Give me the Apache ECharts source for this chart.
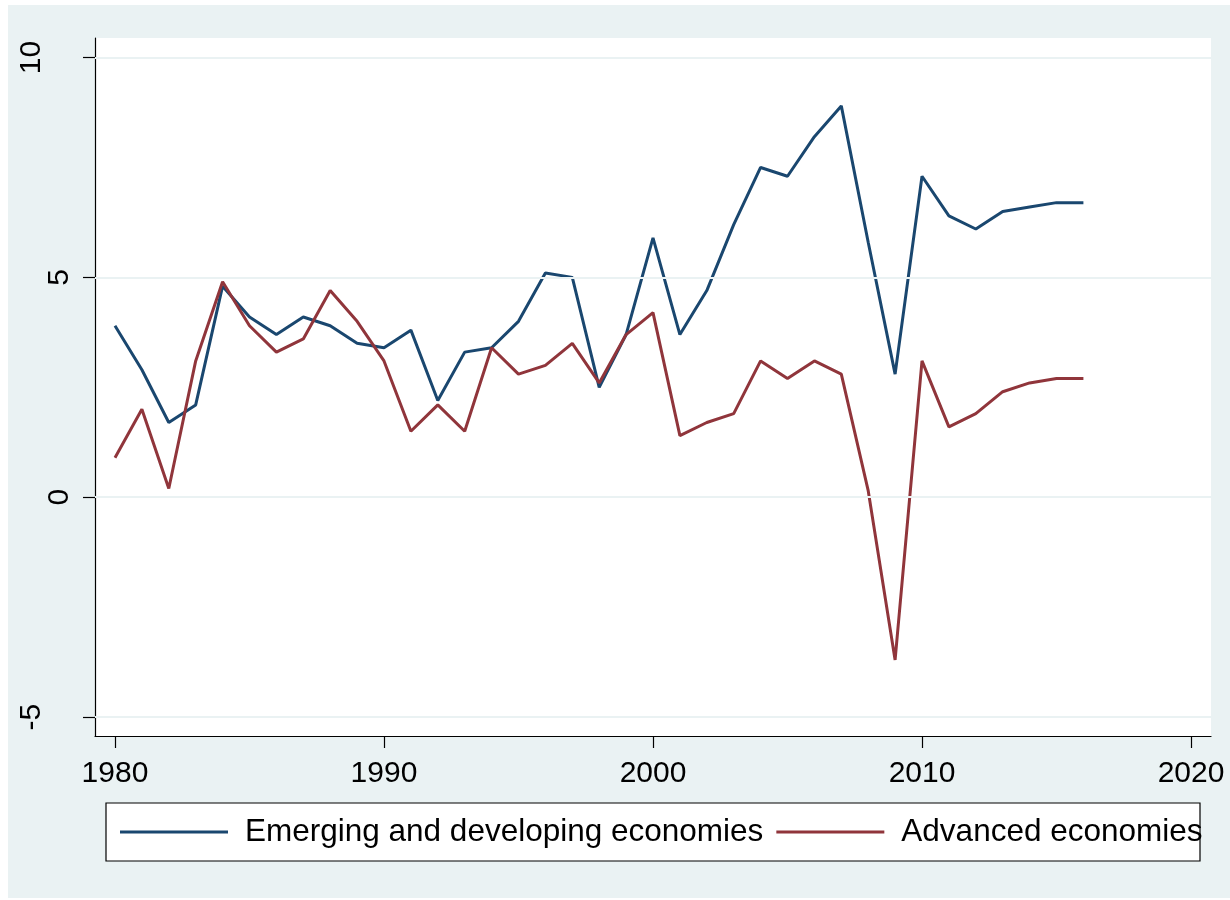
<!DOCTYPE html>
<html>
<head>
<meta charset="utf-8">
<script src="https://cdn.jsdelivr.net/npm/echarts@6/dist/echarts.min.js"></script>
<style>
html,body{margin:0;padding:0;background:#fff;}
#chart{width:1230px;height:900px;}
</style>
</head>
<body>
<div id="chart"></div>
<script>
const years = [1980,1981,1982,1983,1984,1985,1986,1987,1988,1989,
  1990,1991,1992,1993,1994,1995,1996,1997,1998,1999,
  2000,2001,2002,2003,2004,2005,2006,2007,2008,2009,
  2010,2011,2012,2013,2014,2015,2016];
const emerging = [3.9,2.9,1.7,2.1,4.8,4.1,3.7,4.1,3.9,3.5,
  3.4,3.8,2.2,3.3,3.4,4.0,5.1,5.0,2.5,3.7,
  5.9,3.7,4.7,6.2,7.5,7.3,8.2,8.9,5.8,2.8,
  7.3,6.4,6.1,6.5,6.6,6.7,6.7];
const advanced = [0.9,2.0,0.2,3.1,4.9,3.9,3.3,3.6,4.7,4.0,
  3.1,1.5,2.1,1.5,3.4,2.8,3.0,3.5,2.6,3.7,
  4.2,1.4,1.7,1.9,3.1,2.7,3.1,2.8,0.15,-3.7,
  3.1,1.6,1.9,2.4,2.6,2.7,2.7];
const xTicks = [1980,1990,2000,2010,2020];
const yTicks = [-5,0,5,10];
const seriesNames = ['Emerging and developing economies','Advanced economies'];

const font = 'Liberation Sans, Arial, Helvetica, sans-serif';
const pair = (arr) => years.map((y,i)=>[y,arr[i]]);

const chart = echarts.init(document.getElementById('chart'), null, {renderer:'canvas'});
chart.setOption({
  animation:false,
  backgroundColor:'#fff',
  graphic:[
    {type:'rect', z:-10, silent:true, shape:{x:8,y:5,width:1222,height:893}, style:{fill:'#EAF2F3'}},
    {type:'rect', z:-5, silent:true, shape:{x:106,y:803,width:1094,height:58}, style:{fill:'#fff',stroke:'#000',lineWidth:1.2}}
  ],
  grid:{left:95,right:19,top:38,bottom:164,show:true,backgroundColor:'#fff',borderWidth:0},
  xAxis:{
    type:'value', min:1979.257, max:2020.743,
    axisLine:{show:true,onZero:false,lineStyle:{color:'#000',width:1.2}},
    axisTick:{show:true,length:12,customValues:xTicks,lineStyle:{color:'#000',width:1.2}},
    axisLabel:{customValues:xTicks,margin:23,fontSize:30,color:'#000',fontFamily:font,
      formatter:(v)=>String(v)},
    splitLine:{show:false}
  },
  yAxis:{
    type:'value', min:-5.43, max:10.444,
    axisLine:{show:true,onZero:false,lineStyle:{color:'#000',width:1.2}},
    axisTick:{show:true,length:12,customValues:yTicks,lineStyle:{color:'#000',width:1.2}},
    axisLabel:{customValues:yTicks,rotate:90,margin:20,fontSize:30,color:'#000',fontFamily:font,
      formatter:(v)=>{const s=String(v); return s.length>1 ? '{t|'+s+'}\n{s| }' : '{t|'+s+'}';},
      rich:{t:{fontSize:30,fontFamily:font,color:'#000',lineHeight:30},s:{fontSize:10,lineHeight:28}}},
    splitLine:{show:false}
  },
  legend:{
    show:true, z:10,
    left:120, top:816, padding:0, itemWidth:108, itemHeight:3, itemGap:13,
    icon:'rect',
    textStyle:{fontSize:31.5,fontFamily:font,color:'#000',padding:[0,0,0,12]},
    data:seriesNames
  },
  series:[
    {type:'line', name:'grid', data:[], z:1, silent:true,
      markLine:{silent:true,symbol:'none',label:{show:false},
        lineStyle:{color:'#EAF2F3',width:2,type:'solid'},
        data:yTicks.map(v=>({yAxis:v}))}},
    {name:seriesNames[0], type:'line', data:pair(emerging), symbol:'none', z:3,
      lineStyle:{color:'#1A476F',width:3}, itemStyle:{color:'#1A476F'}},
    {name:seriesNames[1], type:'line', data:pair(advanced), symbol:'none', z:3,
      lineStyle:{color:'#90353B',width:3}, itemStyle:{color:'#90353B'}}
  ]
});
</script>
</body>
</html>
